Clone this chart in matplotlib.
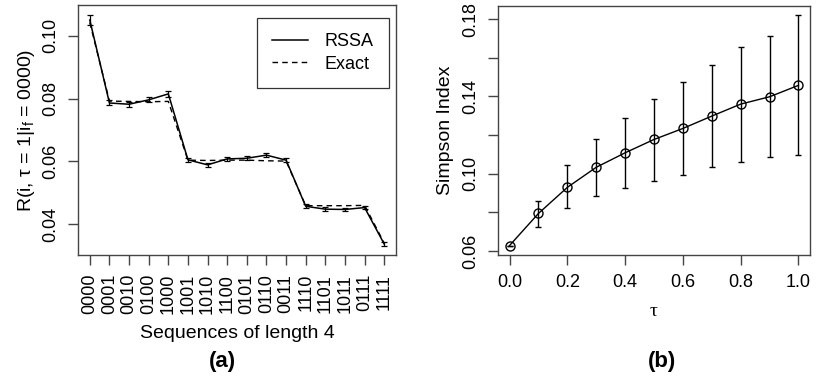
import numpy as np
import matplotlib
matplotlib.use("Agg")
import matplotlib.pyplot as plt
from matplotlib.lines import Line2D

plt.rcParams['font.family'] = ['Liberation Sans', 'DejaVu Sans']
plt.rcParams['mathtext.fontset'] = 'custom'
plt.rcParams['mathtext.rm'] = 'Liberation Sans'
plt.rcParams['mathtext.it'] = 'Liberation Sans'

# (a) transition probabilities
seqs = ['0000', '0001', '0010', '0100', '1000', '1001', '1010', '1100',
        '0101', '0110', '0011', '1110', '1101', '1011', '0111', '1111']
rssa = [0.1050, 0.0786, 0.0782, 0.0796, 0.0815, 0.0605, 0.0589, 0.0608,
        0.0610, 0.0620, 0.0604, 0.0457, 0.0448, 0.0447, 0.0453, 0.0337]
rssa_err = [0.0017, 0.0008, 0.0008, 0.0008, 0.0009, 0.0007, 0.0007, 0.0007,
            0.0007, 0.0007, 0.0007, 0.0006, 0.0006, 0.0006, 0.0006, 0.0006]
exact = [0.1042, 0.0792, 0.0791, 0.0790, 0.0791, 0.0604, 0.0603, 0.0604,
         0.0604, 0.0602, 0.0601, 0.0459, 0.0459, 0.0459, 0.0460, 0.0340]

# (b) Simpson index vs tau
tau = [0.0, 0.1, 0.2, 0.3, 0.4, 0.5, 0.6, 0.7, 0.8, 0.9, 1.0]
simpson = [0.0628, 0.0794, 0.0929, 0.1033, 0.1108, 0.1177, 0.1234, 0.1298,
           0.1360, 0.1398, 0.1457]
simp_lo = [0.0628, 0.0726, 0.0822, 0.0882, 0.0926, 0.0960, 0.0995, 0.1036,
           0.1061, 0.1088, 0.1097]
simp_hi = [0.0628, 0.0861, 0.1045, 0.1182, 0.1287, 0.1388, 0.1474, 0.1564,
           0.1658, 0.1712, 0.1821]

fs = 13     # tick / legend text
fl = 14     # axis labels
fig = plt.figure(figsize=(8.18, 3.81), dpi=100)

# ---- panel (a)
ax1 = fig.add_axes([0.0954, 0.3307, 0.3887, 0.6562])
x = np.arange(1, len(seqs) + 1)
ax1.plot(x, exact, color='black', lw=1.0, ls=(0, (4, 3)))
ax1.errorbar(x, rssa, yerr=rssa_err, color='black', lw=1.1, elinewidth=0.9,
             capsize=2.5, capthick=0.9)
ax1.set_xlim(0.4, 16.6)
ax1.set_ylim(0.0302, 0.1098)
ax1.set_xticks(x)
ax1.set_xticklabels(seqs, rotation=90, fontsize=fs)
ax1.set_yticks([0.04, 0.06, 0.08, 0.10])
ax1.set_yticklabels(['0.04', '0.06', '0.08', '0.10'], rotation=90, va='center', fontsize=fs)
ax1.set_xlabel('Sequences of length 4', fontsize=fl, labelpad=8)
ax1.set_ylabel(r'R(i, $\tau$ = 1|i$_f$ = 0000)', fontsize=fl, labelpad=4)
handles = [Line2D([], [], color='black', lw=1.1),
           Line2D([], [], color='black', lw=1.0, ls=(0, (4, 3)))]
leg = ax1.legend(handles, ['RSSA', 'Exact'], loc='upper right',
                 bbox_to_anchor=(0.978, 0.948), borderaxespad=0, fontsize=fs,
                 frameon=True, fancybox=False, edgecolor='black', handlelength=2.0,
                 borderpad=0.85, labelspacing=0.3, handletextpad=0.9)
leg.get_frame().set_linewidth(0.9)
fig.text(0.272, 0.05, '(a)', fontsize=16, fontweight='bold', ha='center', va='center')

# ---- panel (b)
ax2 = fig.add_axes([0.6088, 0.3307, 0.3814, 0.6536])
yerr = [np.array(simpson) - np.array(simp_lo), np.array(simp_hi) - np.array(simpson)]
ax2.errorbar(tau, simpson, yerr=yerr, color='black', lw=1.0, elinewidth=1.0,
             capsize=2.5, capthick=1.0, marker='o', mfc='none', mec='black',
             ms=6.5, mew=1.0)
ax2.set_xlim(-0.04, 1.04)
ax2.set_ylim(0.0579, 0.1868)
ax2.set_xticks([0.0, 0.2, 0.4, 0.6, 0.8, 1.0])
ax2.set_xticklabels(['0.0', '0.2', '0.4', '0.6', '0.8', '1.0'], fontsize=fs)
ax2.set_yticks([0.06, 0.08, 0.10, 0.12, 0.14, 0.16, 0.18])
ax2.set_yticklabels(['0.06', '', '0.10', '', '0.14', '', '0.18'], rotation=90,
                    va='center', fontsize=fs)
ax2.set_xlabel('τ', fontsize=fl, family='Liberation Serif', labelpad=9)
ax2.set_ylabel('Simpson Index', fontsize=fl, labelpad=6)
fig.text(0.809, 0.05, '(b)', fontsize=16, fontweight='bold', ha='center', va='center')

for ax in (ax1, ax2):
    for s in ax.spines.values():
        s.set_linewidth(1.0)
        s.set_color('#444444')
    ax.tick_params(direction='out', length=7.5, width=1.0, color='#444444', pad=6)

fig.savefig('out.png', dpi=100)
